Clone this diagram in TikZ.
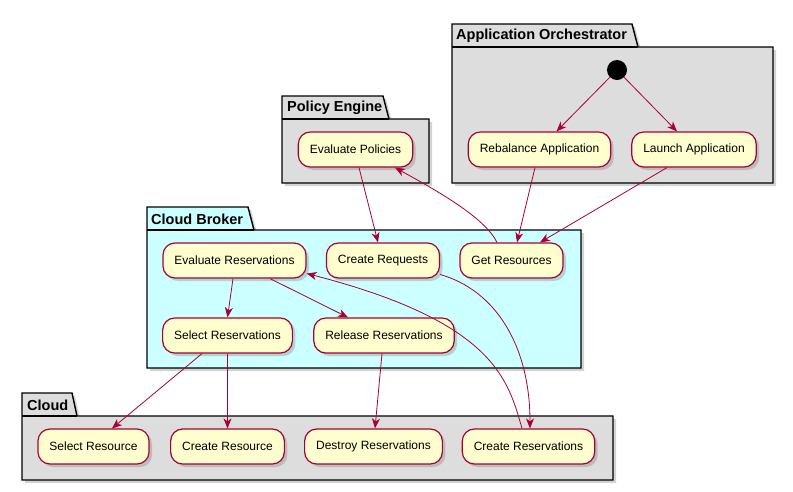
\documentclass[tikz,border=0pt]{standalone}
\usepackage{fontspec}
\setmainfont{Liberation Sans}
\usetikzlibrary{arrows.meta,shadows}
\definecolor{umlred}{HTML}{A80036}
\definecolor{umlfill}{HTML}{FEFECE}
\definecolor{pkggray}{HTML}{DDDDDD}
\definecolor{pkgcyan}{HTML}{CCFFFF}
\begin{document}
\begin{tikzpicture}[x=1pt,y=-1pt,
  activity/.style={draw=umlred,fill=umlfill,line width=1.2pt,rounded corners=12pt,
    minimum height=35pt,inner xsep=11.5pt,font=\fontsize{12}{14}\selectfont,
    drop shadow={shadow xshift=3pt,shadow yshift=-3pt,opacity=0.35}},
  pkg/.style={draw=black,line width=1.4pt,line join=miter,
    drop shadow={shadow xshift=3pt,shadow yshift=-3pt,opacity=0.35}},
  pkgtitle/.style={anchor=west,inner sep=0pt,font=\bfseries\fontsize{14.5}{16}\selectfont},
  flow/.style={draw=umlred,line width=0.8pt,-{Stealth[length=10pt,width=8pt,inset=3pt]}}]
\useasboundingbox (0,0) rectangle (793,491);

% Packages
\draw[pkg,fill=pkggray] (452,47) -- (452,24) -- (632,24) -- (638,47) -- (773,47) -- (773,183) -- (452,183) -- cycle;
\draw[line width=1.4pt] (452,47) -- (638,47);
\node[pkgtitle] (orchTitle) at (456,36) {Application Orchestrator};

\draw[pkg,fill=pkggray] (282,119) -- (282,96) -- (383,96) -- (389,119) -- (429,119) -- (429,183) -- (282,183) -- cycle;
\draw[line width=1.4pt] (282,119) -- (389,119);
\node[pkgtitle] (policyTitle) at (287,108) {Policy Engine};

\draw[pkg,fill=pkgcyan] (147,230) -- (147,207) -- (248,207) -- (254,230) -- (581,230) -- (581,368) -- (147,368) -- cycle;
\draw[line width=1.4pt] (147,230) -- (254,230);
\node[pkgtitle] (brokerTitle) at (151,219) {Cloud Broker};

\draw[pkg,fill=pkggray] (22,416) -- (22,393) -- (72,393) -- (77,416) -- (613,416) -- (613,480) -- (22,480) -- cycle;
\draw[line width=1.4pt] (22,416) -- (77,416);
\node[pkgtitle] (cloudTitle) at (27,405) {Cloud};

% Activities
\node[circle,fill=black,minimum size=20pt,inner sep=0pt] (start) at (617,70) {};
\node[activity] (rebalance) at (539.5,149.5) {Rebalance Application};
\node[activity] (launch) at (694,149.5) {Launch Application};
\node[activity] (policies) at (355.5,149.5) {Evaluate Policies};
\node[activity] (evalRes) at (234.5,260.5) {Evaluate Reservations};
\node[activity] (createReq) at (383,260.5) {Create Requests};
\node[activity] (getRes) at (511.5,260.5) {Get Resources};
\node[activity] (selectRes) at (227.5,335.5) {Select Reservations};
\node[activity] (releaseRes) at (384,335.5) {Release Reservations};
\node[activity] (selectResource) at (93.5,446.5) {Select Resource};
\node[activity] (createResource) at (227.5,446.5) {Create Resource};
\node[activity] (destroyRes) at (373.5,446.5) {Destroy Reservations};
\node[activity] (createResv) at (528.5,446.5) {Create Reservations};

% Flows
\draw[flow] (start) -- ([xshift=17pt]rebalance.north);
\draw[flow] (start) -- ([xshift=-17pt]launch.north);
\draw[flow] ([xshift=-4.5pt]rebalance.south) -- ([xshift=5.5pt]getRes.north);
\draw[flow] ([xshift=-27pt]launch.south) -- ([xshift=28.5pt]getRes.north);
\draw[flow] ([xshift=3.5pt]policies.south) -- ([xshift=-5pt]createReq.north);
\draw[flow] ([xshift=-14.5pt]getRes.north) .. controls +(-12,-25) and +(40,22) .. ([xshift=39.5pt]policies.south);
\draw[flow] ([xshift=-1.5pt]evalRes.south) -- (selectRes.north);
\draw[flow] ([xshift=35.5pt]evalRes.south) -- ([xshift=-36pt]releaseRes.north);
\draw[flow] ([yshift=-14pt]createReq.east) .. controls (495,290) and (530,345) .. ([xshift=1.5pt]createResv.north);
\draw[flow] ([xshift=-6.5pt]createResv.north) .. controls (508,380) and (495,322) .. ([yshift=-13pt]evalRes.east);
\draw[flow] ([xshift=-25.5pt]selectRes.south) -- ([xshift=18.5pt]selectResource.north);
\draw[flow] (selectRes.south) -- (createResource.north);
\draw[flow] ([xshift=-2pt]releaseRes.south) -- ([xshift=1.5pt]destroyRes.north);
\end{tikzpicture}
\end{document}
